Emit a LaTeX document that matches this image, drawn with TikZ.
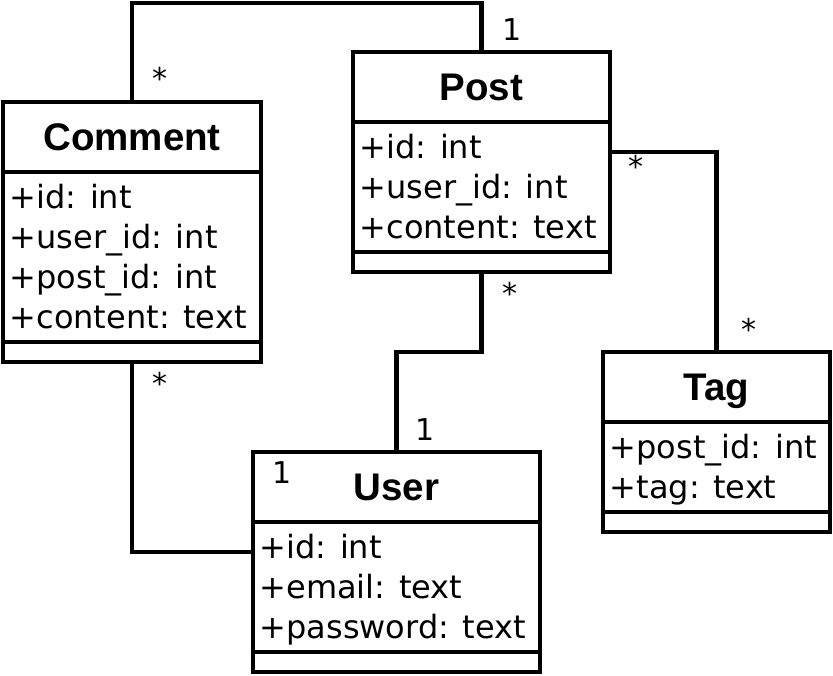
\documentclass[tikz,border=0pt]{standalone}
\usepackage{fontspec}
\setmainfont{DejaVu Sans}
\newfontfamily\titlefont{Liberation Sans}
\tikzset{
  classbox/.style={draw, line width=4.4pt, inner sep=0pt, outer sep=0pt, fill=white},
  sepline/.style={line width=4.4pt},
  conn/.style={line width=4.4pt},
  titletext/.style={inner sep=0pt, anchor=base, font=\titlefont\bfseries\fontsize{38.5}{46}\selectfont},
  attrtext/.style={inner sep=0pt, anchor=base west, font=\fontsize{32}{40}\selectfont},
  multtext/.style={inner sep=0pt, anchor=base, font=\fontsize{30}{36}\selectfont}
}
\begin{document}
\begin{tikzpicture}[x=1pt, y=-1pt]
\fill[white] (0,0) rectangle (833,675);
\useasboundingbox (0,0) rectangle (833,675);

% class boxes
\node[classbox, minimum width=258pt, minimum height=260pt] (comment) at (132,232) {};
\node[classbox, minimum width=257pt, minimum height=220pt] (post) at (481.5,162) {};
\node[classbox, minimum width=227pt, minimum height=180pt] (tag) at (716.5,442) {};
\node[classbox, minimum width=287pt, minimum height=220pt] (user) at (396.5,562) {};

% compartment separators
\foreach \b in {comment,post,tag,user}{
  \draw[sepline] ([yshift=-70pt]\b.north west) -- ([yshift=-70pt]\b.north east);
  \draw[sepline] ([yshift=20pt]\b.south west) -- ([yshift=20pt]\b.south east);
}

% titles
\node[titletext] (commentT) at ([yshift=-48pt]comment.north) {Comment};
\node[titletext] (postT) at ([yshift=-48pt]post.north) {Post};
\node[titletext] (tagT) at ([yshift=-48pt]tag.north) {Tag};
\node[titletext] (userT) at ([yshift=-48pt]user.north) {User};

% attributes
\node[attrtext] (commentA1) at ([xshift=6.5pt,yshift=-106pt]comment.north west) {+id: int};
\node[attrtext] (commentA2) at ([xshift=6.5pt,yshift=-146pt]comment.north west) {+user\_id: int};
\node[attrtext] (commentA3) at ([xshift=6.5pt,yshift=-186pt]comment.north west) {+post\_id: int};
\node[attrtext] (commentA4) at ([xshift=6.5pt,yshift=-226pt]comment.north west) {+content: text};

\node[attrtext] (postA1) at ([xshift=6.5pt,yshift=-106pt]post.north west) {+id: int};
\node[attrtext] (postA2) at ([xshift=6.5pt,yshift=-146pt]post.north west) {+user\_id: int};
\node[attrtext] (postA3) at ([xshift=6.5pt,yshift=-186pt]post.north west) {+content: text};

\node[attrtext] (tagA1) at ([xshift=6.5pt,yshift=-106pt]tag.north west) {+post\_id: int};
\node[attrtext] (tagA2) at ([xshift=6.5pt,yshift=-146pt]tag.north west) {+tag: text};

\node[attrtext] (userA1) at ([xshift=6.5pt,yshift=-106pt]user.north west) {+id: int};
\node[attrtext] (userA2) at ([xshift=6.5pt,yshift=-146pt]user.north west) {+email: text};
\node[attrtext] (userA3) at ([xshift=6.5pt,yshift=-186pt]user.north west) {+password: text};

% connectors
\draw[conn] (comment.north) -- ++(0,-99) -| (post.north);
\draw[conn] ([yshift=10pt]post.east) -| (tag.north);
\draw[conn] (post.south) -- ++(0,80) -| (user.north);
\draw[conn] (comment.south) |- ([yshift=10pt]user.west);

% multiplicities
\node[multtext] (m1) at (160,89) {*};
\node[multtext] (m2) at (512,40) {1};
\node[multtext] (m3) at (636,177) {*};
\node[multtext] (m4) at (749,340) {*};
\node[multtext] (m5) at (510,304) {*};
\node[multtext] (m6) at (425,440) {1};
\node[multtext] (m7) at (160,394) {*};
\node[multtext] (m8) at (282,483) {1};
\end{tikzpicture}
\end{document}
